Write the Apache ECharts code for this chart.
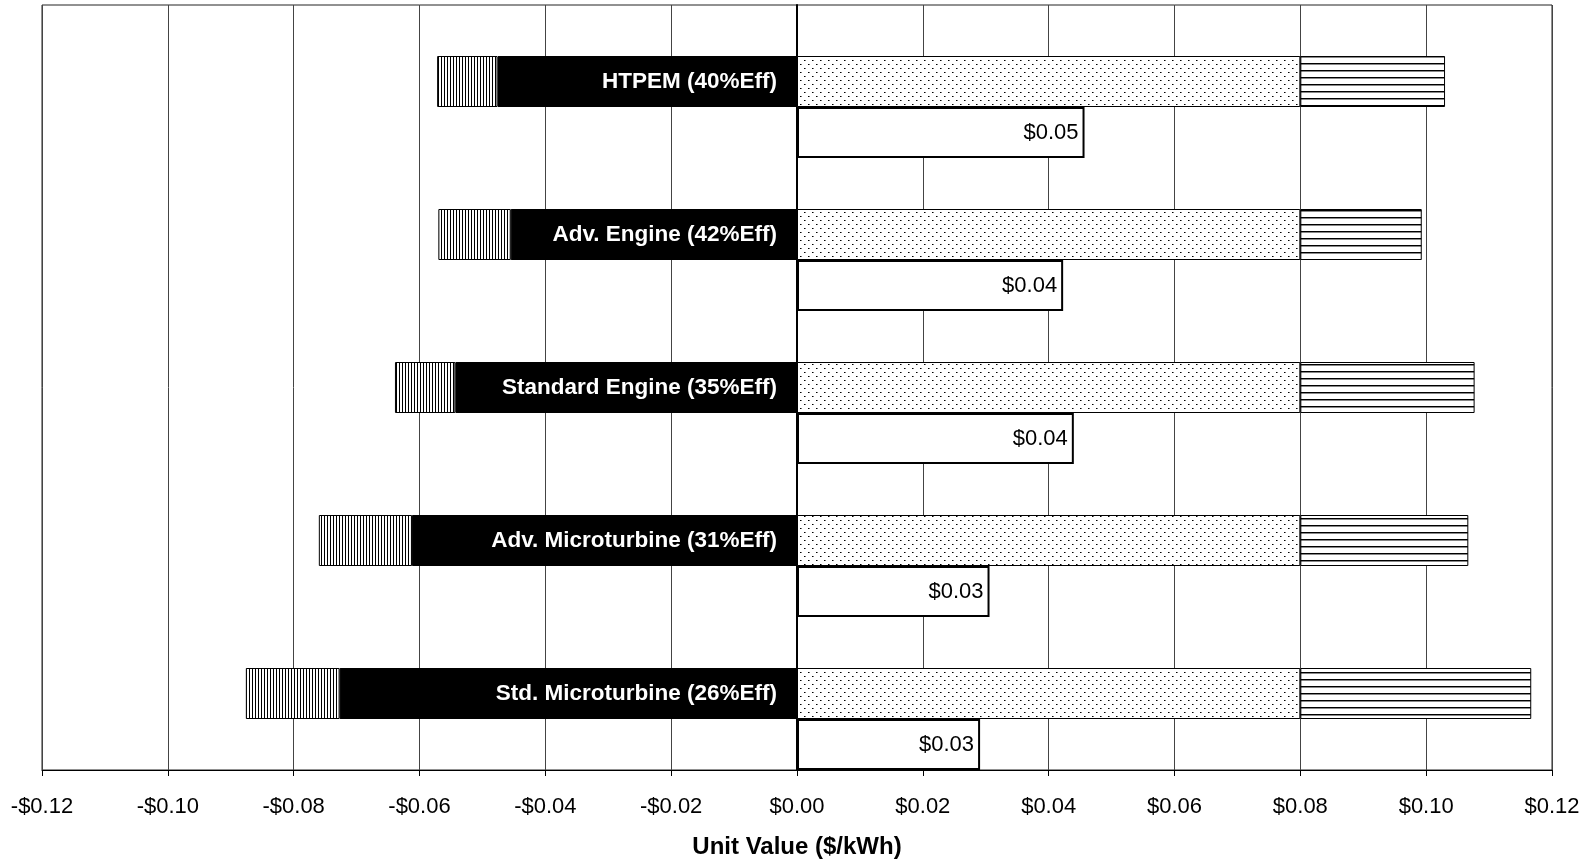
<!DOCTYPE html>
<html>
<head>
<meta charset="utf-8">
<script src="https://cdn.jsdelivr.net/npm/echarts@6/dist/echarts.min.js"></script>
<style>
html,body{margin:0;padding:0;background:#fff;}
#chart{width:1585px;height:861px;}
</style>
</head>
<body>
<div id="chart"></div>
<script>
// ---- data ----
const categories = ['HTPEM (40%Eff)', 'Adv. Engine (42%Eff)', 'Standard Engine (35%Eff)', 'Adv. Microturbine (31%Eff)', 'Std. Microturbine (26%Eff)'];
const costA = [-0.0476, -0.0455, -0.0543, -0.0612, -0.0727];   // solid black segment
const costB = [-0.0096, -0.0115, -0.0096, -0.0148, -0.0149];   // vertical-hatched segment
const valueA = [0.08, 0.08, 0.08, 0.08, 0.08];                 // dotted segment
const valueB = [0.0230, 0.0193, 0.0277, 0.0267, 0.0367];       // horizontal-hatched segment
const netValue = [0.0457, 0.0423, 0.0440, 0.0306, 0.0291];     // net bar
const emptySlot = [null, null, null, null, null];
const axisMin = -0.12, axisMax = 0.12, axisStep = 0.02;
const axisTitle = 'Unit Value ($/kWh)';

// ---- patterns ----
function makePattern(w, h, draw) {
  const c = document.createElement('canvas');
  c.width = w; c.height = h;
  const g = c.getContext('2d');
  g.fillStyle = '#fff'; g.fillRect(0, 0, w, h);
  draw(g);
  return { image: c, repeat: 'repeat' };
}
const vHatch = makePattern(3, 4, g => { g.fillStyle = '#000'; g.fillRect(0, 0, 1, 4); });
const hHatch = makePattern(4, 7, g => { g.fillStyle = '#000'; g.fillRect(0, 0, 4, 1); g.fillStyle = '#888'; g.fillRect(0, 1, 4, 1); });
const dots = makePattern(8, 8, g => {
  g.fillStyle = '#000'; g.fillRect(0, 0, 1, 1); g.fillRect(4, 4, 1, 1);
  g.fillStyle = '#777'; g.fillRect(1, 0, 1, 1); g.fillRect(5, 4, 1, 1);
});

const FONT = "'Liberation Sans', Arial, sans-serif";
function money(v) {
  const s = '$' + Math.abs(v).toFixed(2);
  return (v < -1e-9 ? '-' : '') + s;
}

const chart = echarts.init(document.getElementById('chart'), null, { renderer: 'canvas' });
const segBorder = { borderColor: '#000', borderWidth: 1 };
chart.setOption({
  animation: false,
  backgroundColor: '#fff',
  grid: { left: 42, right: 33, top: 5, bottom: 91, show: true, borderColor: '#222', borderWidth: 1,
          containLabel: false, outerBoundsMode: 'none' },
  xAxis: {
    type: 'value', min: axisMin, max: axisMax, interval: axisStep,
    name: axisTitle, nameLocation: 'middle', nameGap: 65,
    nameTextStyle: { fontFamily: FONT, fontSize: 24, fontWeight: 'bold', color: '#000' },
    axisLine: { show: true, onZero: false, lineStyle: { color: '#000', width: 1 } },
    axisTick: { show: true, length: 6, lineStyle: { color: '#000' } },
    axisLabel: { fontFamily: FONT, fontSize: 22, color: '#000', margin: 26, formatter: money },
    splitLine: { show: true, lineStyle: { color: '#444', width: 1 } }
  },
  yAxis: {
    type: 'category', data: categories, inverse: true,
    axisLine: { show: true, onZero: true, lineStyle: { color: '#000', width: 2 } },
    axisTick: { show: false }, axisLabel: { show: false }, splitLine: { show: false }
  },
  series: [
    { name: 'slot', type: 'bar', stack: 'empty', data: emptySlot, barGap: '0%', barCategoryGap: '0%' },
    { name: 'Cost A', type: 'bar', stack: 'main', data: costA, itemStyle: Object.assign({ color: '#000' }, segBorder),
      label: { show: true, position: 'insideRight', distance: 20, color: '#fff', fontFamily: FONT, fontSize: 22.5, fontWeight: 'bold',
               formatter: p => categories[p.dataIndex] } },
    { name: 'Cost B', type: 'bar', stack: 'main', data: costB, itemStyle: Object.assign({ color: vHatch }, segBorder) },
    { name: 'Value A', type: 'bar', stack: 'main', data: valueA, itemStyle: Object.assign({ color: dots }, segBorder) },
    { name: 'Value B', type: 'bar', stack: 'main', data: valueB, itemStyle: Object.assign({ color: hHatch }, segBorder) },
    { name: 'Net', type: 'bar', stack: 'net', data: netValue, itemStyle: { color: '#fff', borderColor: '#000', borderWidth: 2 },
      label: { show: true, position: 'insideRight', distance: 6, color: '#000', fontFamily: FONT, fontSize: 22,
               formatter: p => money(p.value) } }
  ]
});
</script>
</body>
</html>
